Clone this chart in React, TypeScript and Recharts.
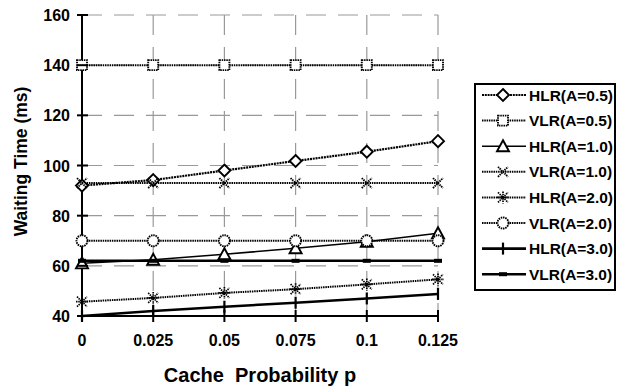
import React from "react";
import { LineChart, Line, XAxis, YAxis, CartesianGrid, Legend } from "recharts";

// cache probability p
const P_VALUES = [0, 0.025, 0.05, 0.075, 0.1, 0.125];
const Y_TICKS = [40, 60, 80, 100, 120, 140, 160];

// waiting time (ms)
const HLR_05 = [92, 94.2, 98, 101.8, 105.5, 109.7];
const VLR_05 = [140, 140, 140, 140, 140, 140];
const HLR_10 = [61, 62.4, 64.6, 67, 69.6, 73];
const VLR_10 = [93, 93, 93, 93, 93, 93];
const HLR_20 = [45.7, 47.2, 49.2, 50.7, 52.6, 54.6];
const VLR_20 = [70, 70, 70, 70, 70, 70];
const HLR_30 = [40, 42, 43.7, 45.3, 47, 48.8];
const VLR_30 = [62, 62, 62, 62, 62, 62];

const FONT = "Arial, 'Liberation Sans', sans-serif";

// style per series: marker kind + line look
const SERIES = [
  { key: "hlr05", name: "HLR(A=0.5)", values: HLR_05, marker: "diamond", dash: "2 0.8", width: 2.2 },
  { key: "vlr05", name: "VLR(A=0.5)", values: VLR_05, marker: "square", dash: "1.5 0.8", width: 2 },
  { key: "hlr10", name: "HLR(A=1.0)", values: HLR_10, marker: "triangle", dash: undefined, width: 1.6 },
  { key: "vlr10", name: "VLR(A=1.0)", values: VLR_10, marker: "cross", dash: "1.5 0.8", width: 2 },
  { key: "hlr20", name: "HLR(A=2.0)", values: HLR_20, marker: "star", dash: "1.5 0.8", width: 2 },
  { key: "vlr20", name: "VLR(A=2.0)", values: VLR_20, marker: "circle", dash: "1.5 0.8", width: 2 },
  { key: "hlr30", name: "HLR(A=3.0)", values: HLR_30, marker: "plus", dash: undefined, width: 2.6 },
  { key: "vlr30", name: "VLR(A=3.0)", values: VLR_30, marker: "bar", dash: undefined, width: 2.6 },
];

const data = P_VALUES.map((p, i) => {
  const row: any = { p };
  SERIES.forEach((s) => (row[s.key] = s.values[i]));
  return row;
});

function Marker({ kind, cx, cy, dotted }: any) {
  const st = {
    stroke: "#000",
    strokeWidth: 1.9,
    strokeDasharray: dotted ? "1.5 0.8" : undefined,
    fill: "#fff",
  };
  switch (kind) {
    case "diamond":
      return <polygon points={`${cx},${cy - 6} ${cx + 6},${cy} ${cx},${cy + 6} ${cx - 6},${cy}`} {...st} strokeDasharray={undefined} />;
    case "square":
      return <rect x={cx - 5} y={cy - 5} width={10} height={10} {...st} />;
    case "triangle":
      return <polygon points={`${cx},${cy - 6} ${cx + 6},${cy + 5} ${cx - 6},${cy + 5}`} {...st} />;
    case "cross":
      return (
        <g {...st}>
          <line x1={cx - 5} y1={cy - 5} x2={cx + 5} y2={cy + 5} />
          <line x1={cx - 5} y1={cy + 5} x2={cx + 5} y2={cy - 5} />
        </g>
      );
    case "star":
      return (
        <g {...st} strokeWidth={1.7}>
          <line x1={cx - 5} y1={cy - 5} x2={cx + 5} y2={cy + 5} />
          <line x1={cx - 5} y1={cy + 5} x2={cx + 5} y2={cy - 5} />
          <line x1={cx} y1={cy - 6} x2={cx} y2={cy + 6} />
          <line x1={cx - 6} y1={cy} x2={cx + 6} y2={cy} />
        </g>
      );
    case "circle":
      return <circle cx={cx} cy={cy} r={5.5} {...st} />;
    case "plus":
      return <line x1={cx} y1={cy - 6} x2={cx} y2={cy + 6} stroke="#000" strokeWidth={2.2} />;
    case "bar":
      return <rect x={cx - 4} y={cy - 2} width={8} height={4} fill="#000" />;
    default:
      return null;
  }
}

const YTick = ({ x, y, payload }: any) => (
  <g>
    <line x1={x - 5} y1={y} x2={x + 6} y2={y} stroke="#000" strokeWidth={2} />
    <text x={x - 12} y={y + 6} textAnchor="end" fontFamily={FONT} fontWeight="bold" fontSize={16} fill="#000">
      {payload.value}
    </text>
  </g>
);

const XTick = ({ x, y, payload }: any) => (
  <g>
    <line x1={x} y1={y - 6} x2={x} y2={y + 6} stroke="#000" strokeWidth={2} />
    <text x={x} y={y + 30} textAnchor="middle" fontFamily={FONT} fontWeight="bold" fontSize={16} fill="#000">
      {String(payload.value)}
    </text>
  </g>
);

const LegendBox = () => (
  <svg width={142} height={208} style={{ display: "block" }}>
    <rect x={1} y={1} width={140} height={206} fill="#fff" stroke="#000" strokeWidth={2} />
    {SERIES.map((s, i) => {
      const cy = 12 + i * 25.6;
      const dotted = !!s.dash;
      return (
        <g key={s.key}>
          <line x1={8} y1={cy} x2={52} y2={cy} stroke="#000" strokeWidth={s.width} strokeDasharray={s.dash} />
          <Marker kind={s.marker} cx={29} cy={cy} dotted={dotted} />
          <text x={55} y={cy + 5.5} fontFamily={FONT} fontWeight="bold" fontSize={15.5} fill="#000">
            {s.name}
          </text>
        </g>
      );
    })}
  </svg>
);

export default function App() {
  return (
    <div style={{ position: "absolute", left: 0, top: 0, width: 619, height: 387, background: "#fff" }}>
      <LineChart width={619} height={387} data={data} margin={{ top: 15, right: 181, left: 0, bottom: 0 }}>
        <CartesianGrid stroke="#999" strokeWidth={1.2} strokeDasharray="20 12" />
        <XAxis
          dataKey="p"
          type="number"
          domain={[0, 0.125]}
          ticks={P_VALUES}
          height={71}
          tickSize={0}
          tickMargin={0}
          tickLine={false}
          axisLine={{ stroke: "#000", strokeWidth: 2 }}
          tick={<XTick />}
          label={{
            position: "insideBottom",
            content: ({ viewBox }: any) => (
              <text
                x={viewBox.x + viewBox.width / 2}
                y={viewBox.y + 66}
                textAnchor="middle"
                fontFamily={FONT}
                fontWeight="bold"
                fontSize={20}
                fill="#000"
                style={{ whiteSpace: "pre" }}
              >
                {"Cache  Probability p"}
              </text>
            ),
          }}
        />
        <YAxis
          type="number"
          domain={[40, 160]}
          ticks={Y_TICKS}
          width={82}
          tickSize={0}
          tickMargin={0}
          tickLine={false}
          axisLine={{ stroke: "#000", strokeWidth: 2 }}
          tick={<YTick />}
          label={{
            position: "insideLeft",
            content: ({ viewBox }: any) => {
              const cx = viewBox.x + 21;
              const cy = viewBox.y + viewBox.height / 2 - 4;
              return (
                <text
                  x={cx}
                  y={cy}
                  transform={`rotate(-90, ${cx}, ${cy})`}
                  textAnchor="middle"
                  dominantBaseline="central"
                  fontFamily={FONT}
                  fontWeight="bold"
                  fontSize={17.5}
                  fill="#000"
                >
                  Waiting Time (ms)
                </text>
              );
            },
          }}
        />
        <Legend
          layout="vertical"
          align="center"
          verticalAlign="middle"
          content={() => <LegendBox />}
          wrapperStyle={{ left: 474, top: 83, width: 142, height: 208 }}
        />
        {SERIES.map((s) => (
          <Line
            key={s.key}
            dataKey={s.key}
            name={s.name}
            stroke="#000"
            strokeWidth={s.width}
            strokeDasharray={s.dash}
            isAnimationActive={false}
            dot={(props: any) => (
              <g key={`${s.key}-${props.index}`}>
                <Marker kind={s.marker} cx={props.cx} cy={props.cy} dotted={!!s.dash} />
              </g>
            )}
            activeDot={false}
          />
        ))}
      </LineChart>
    </div>
  );
}
